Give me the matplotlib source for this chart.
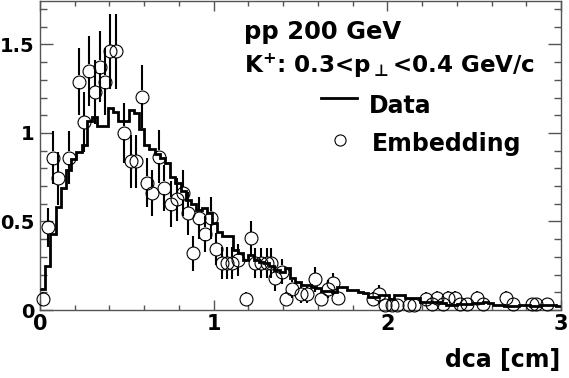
import numpy as np
import matplotlib
matplotlib.use("Agg")
import matplotlib.pyplot as plt

plt.rcParams['font.family'] = ['DejaVu Sans']
plt.rcParams['font.weight'] = 'bold'

# ---------------- data ----------------
dca_min, dca_max, n_bins = 0.0, 3.0, 100

data_hist = [
    0.12, 0.25, 0.43, 0.58, 0.69, 0.79, 0.85, 0.89, 0.93, 1.07,
    1.09, 1.04, 1.04, 1.14, 1.12, 1.07, 1.07, 1.13, 1.11, 1.02,
    0.93, 0.91, 0.88, 0.86, 0.83, 0.75, 0.72, 0.67, 0.62, 0.60,
    0.565, 0.575, 0.55, 0.49, 0.44, 0.42, 0.42, 0.34, 0.32, 0.28,
    0.31, 0.28, 0.27, 0.265, 0.25, 0.226, 0.216, 0.237, 0.18, 0.16,
    0.14, 0.14, 0.13, 0.125, 0.105, 0.11, 0.10, 0.13, 0.13, 0.113,
    0.113, 0.10, 0.095, 0.075, 0.075, 0.085, 0.085, 0.06, 0.085, 0.085,
    0.066, 0.066, 0.066, 0.047, 0.047, 0.047, 0.047, 0.038, 0.028, 0.028,
    0.035, 0.035, 0.035, 0.038, 0.038, 0.047, 0.038, 0.03, 0.03, 0.02,
    0.02, 0.02, 0.028, 0.028, 0.02, 0.02, 0.028, 0.028, 0.028, 0.02,
]

emb_x = [
    0.015, 0.045, 0.075, 0.105, 0.165, 0.225, 0.255, 0.285, 0.315, 0.345,
    0.375, 0.405, 0.435, 0.485, 0.525, 0.555, 0.585, 0.615, 0.645, 0.685,
    0.715, 0.755, 0.787, 0.822, 0.852, 0.883, 0.917, 0.950, 0.984, 1.013,
    1.046, 1.075, 1.104, 1.140, 1.186, 1.215, 1.240, 1.270, 1.305, 1.330,
    1.353, 1.391, 1.416, 1.449, 1.503, 1.539, 1.583, 1.618, 1.656, 1.689,
    1.717, 1.917, 1.953, 1.986, 2.025, 2.055, 2.124, 2.156, 2.222, 2.255,
    2.284, 2.318, 2.350, 2.389, 2.418, 2.457, 2.514, 2.549, 2.683, 2.721,
    2.831, 2.856, 2.921,
]
emb_y = [
    0.06, 0.467, 0.86, 0.745, 0.86, 1.29, 1.06, 1.35, 1.23, 1.375,
    1.29, 1.46, 1.46, 1.0, 0.84, 0.84, 1.205, 0.72, 0.66, 0.866,
    0.69, 0.60, 0.625, 0.66, 0.546, 0.32, 0.52, 0.43, 0.52, 0.343,
    0.264, 0.264, 0.264, 0.28, 0.06, 0.405, 0.264, 0.264, 0.264, 0.264,
    0.18, 0.216, 0.06, 0.12, 0.09, 0.09, 0.173, 0.06, 0.117, 0.15,
    0.066, 0.06, 0.09, 0.028, 0.028, 0.028, 0.028, 0.028, 0.062, 0.034,
    0.066, 0.034, 0.066, 0.066, 0.034, 0.034, 0.066, 0.034, 0.066, 0.034,
    0.034, 0.034, 0.034,
]
emb_err = [
    0.04, 0.11, 0.15, 0.15, 0.15, 0.19, 0.17, 0.20, 0.18, 0.20,
    0.19, 0.21, 0.21, 0.17, 0.15, 0.15, 0.18, 0.14, 0.13, 0.15,
    0.13, 0.13, 0.12, 0.13, 0.12, 0.10, 0.12, 0.10, 0.12, 0.09,
    0.09, 0.09, 0.09, 0.09, 0.04, 0.10, 0.085, 0.085, 0.085, 0.085,
    0.07, 0.07, 0.04, 0.05, 0.05, 0.05, 0.07, 0.04, 0.05, 0.06,
    0.04, 0.04, 0.05, 0.03, 0.03, 0.03, 0.03, 0.03, 0.04, 0.03,
    0.04, 0.03, 0.04, 0.04, 0.03, 0.03, 0.04, 0.03, 0.04, 0.03,
    0.03, 0.03, 0.03,
]

x_ticks = [0, 1, 2, 3]
x_ticklabels = ["0", "1", "2", "3"]
y_ticks = [0, 0.5, 1.0, 1.5]
y_ticklabels = ["0", "0.5", "1", "1.5"]

# ---------------- figure ----------------
W, H = 569, 378
fig = plt.figure(figsize=(W / 100, H / 100), dpi=100)
L, R, T, B = 40, 561, 1, 310
ax = fig.add_axes([L / W, 1 - B / H, (R - L) / W, (B - T) / H])
ymax = 1.745
ax.set_xlim(dca_min, dca_max)
ax.set_ylim(0, ymax)

edges = np.linspace(dca_min, dca_max, n_bins + 1)
ax.stairs(data_hist, edges, baseline=None, color='black', lw=2.0, zorder=3)

# error bars with gap at the marker (ROOT style)
r = 6.5 / ((B - T) / ymax)   # marker radius in data units
ex = np.array(emb_x); ey = np.array(emb_y); ee = np.array(emb_err)
has = ee > r
ax.vlines(ex[has], (ey - ee)[has], (ey - r)[has], color='black', lw=1.5, zorder=2)
ax.vlines(ex[has], (ey + r)[has], (ey + ee)[has], color='black', lw=1.5, zorder=2)
ax.plot(ex, ey, 'o', mfc='none', mec='black', ms=9.3, mew=0.8, zorder=4,
        clip_on=False)

for s in ax.spines.values():
    s.set_color('#555555')
    s.set_linewidth(1.0)

ax.set_xticks(x_ticks)
ax.set_xticklabels(x_ticklabels)
ax.set_yticks(y_ticks)
ax.set_yticklabels(y_ticklabels)
ax.xaxis.set_minor_locator(matplotlib.ticker.MultipleLocator(0.2))
ax.yaxis.set_minor_locator(matplotlib.ticker.MultipleLocator(0.1))
ax.tick_params(which='both', direction='in', top=True, right=True,
               color='#555555', width=1.0)
ax.tick_params(axis='x', which='major', length=7.5, labelsize=15, pad=3)
ax.tick_params(axis='x', which='minor', length=3.8)
ax.tick_params(axis='y', which='major', length=9.5, labelsize=14, pad=4)
ax.tick_params(axis='y', which='minor', length=4.8)
for lab in ax.get_xticklabels() + ax.get_yticklabels():
    lab.set_fontweight('bold')

# axis title
fig.text(560 / W, 1 - 367 / H, "dca [cm]", ha='right', va='baseline',
         fontsize=17, fontweight='bold')

# annotations
fig.text(244 / W, 1 - 39 / H, "pp 200 GeV", ha='left', va='baseline',
         fontsize=17.5, fontweight='bold')
fig.text(244 / W, 1 - 73 / H, r"K$^{\mathbf{+}}$: 0.3<p$_{\bot}$<0.4 GeV/c",
         ha='left', va='baseline', fontsize=16.6, fontweight='bold',
         math_fontfamily='dejavusans')

# legend
fig.add_artist(plt.Line2D([321 / W, 357 / W], [1 - 98 / H, 1 - 98 / H],
                          color='black', lw=2.0))
fig.text(369 / W, 1 - 113 / H, "Data", ha='left', va='baseline',
         fontsize=17, fontweight='bold')
fig.add_artist(plt.Line2D([340 / W], [1 - 140 / H], marker='o', mfc='none',
                          mec='black', ms=8, mew=0.8, linestyle='none'))
fig.text(372 / W, 1 - 151 / H, "Embedding", ha='left', va='baseline',
         fontsize=17, fontweight='bold')

fig.savefig("out.png", dpi=100)
